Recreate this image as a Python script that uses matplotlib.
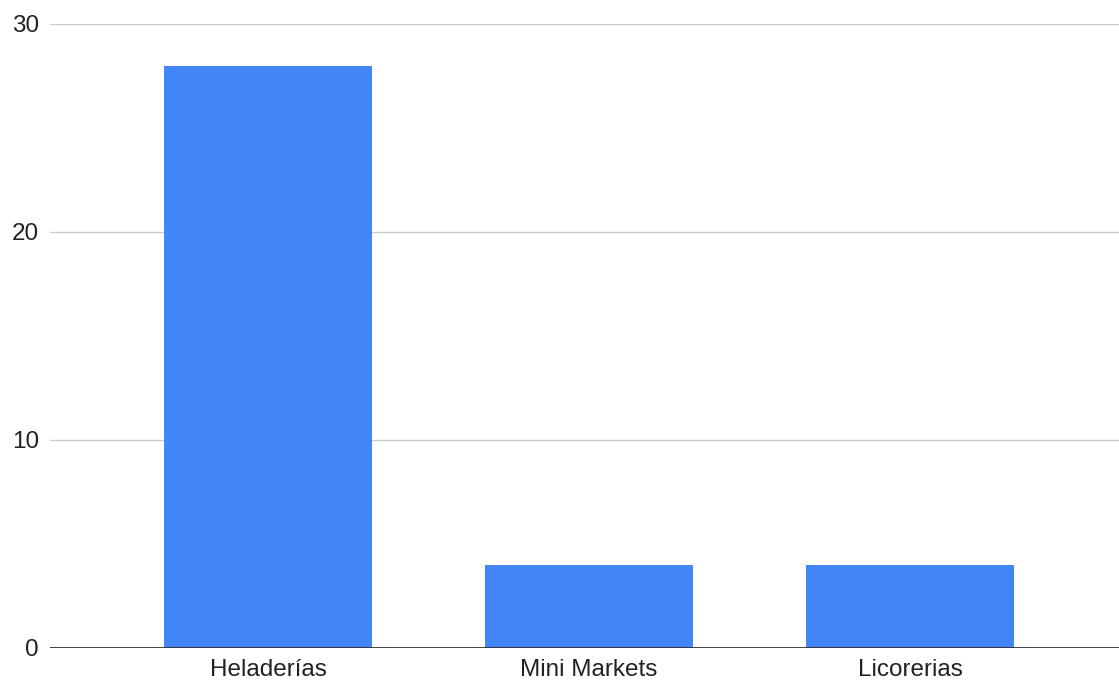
import matplotlib.pyplot as plt

categories = ['Heladerías', 'Mini Markets', 'Licorerias']
values = [28, 4, 4]
yticks = [0, 10, 20, 30]

plt.rcParams['font.family'] = ['Liberation Sans', 'DejaVu Sans']

fig = plt.figure(figsize=(11.19, 6.82), dpi=100)
ax = fig.add_axes([50 / 1119, 34 / 682, 1 - 50 / 1119, 624 / 682])

x = range(len(categories))
ax.bar(x, values, width=0.648, color='#4285F4', zorder=3)

ax.set_xlim(-0.679, 2.651)
ax.set_ylim(0, 30)
ax.set_yticks(yticks)
ax.set_xticks(list(x))
ax.set_xticklabels(categories)

ax.grid(axis='y', color='#cccccc', linewidth=1, zorder=0)
ax.axhline(0, color='#333333', linewidth=1.3, zorder=4)

for side in ['top', 'right', 'left', 'bottom']:
    ax.spines[side].set_visible(False)

ax.tick_params(axis='both', length=0, labelsize=17.5, labelcolor='#222222')
ax.tick_params(axis='y', pad=8)
ax.tick_params(axis='x', pad=8)

fig.savefig('out.png', dpi=100)
